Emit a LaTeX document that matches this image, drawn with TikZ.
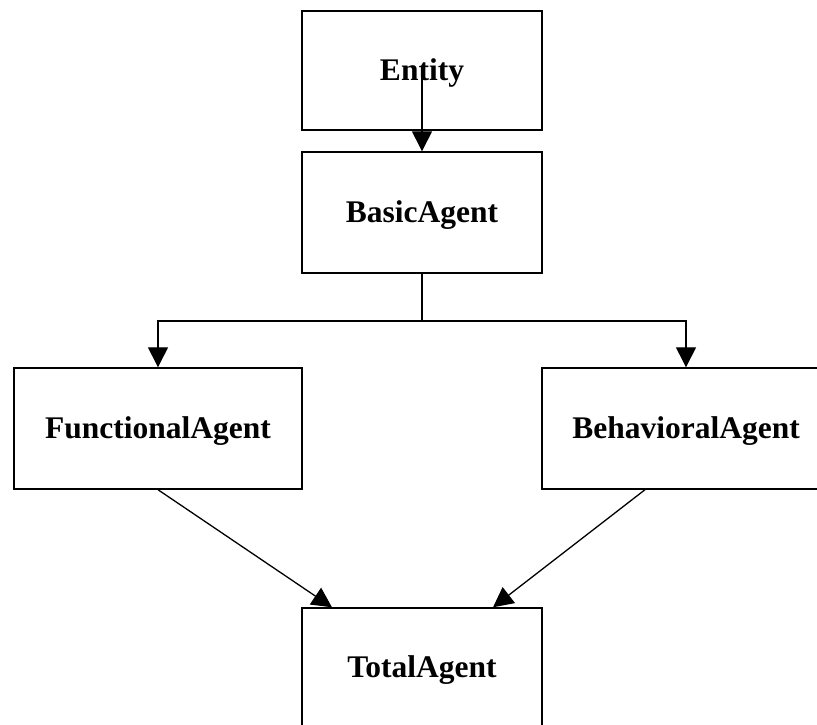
\documentclass[tikz,border=0pt]{standalone}
\usepackage{fontspec}
\setmainfont{Liberation Serif}
\usetikzlibrary{arrows.meta}
\begin{document}
\begin{tikzpicture}[x=1pt,y=-1pt,
  cls/.style={draw,line width=1.4pt,rectangle,inner sep=0pt,
    text height=22pt,text depth=3pt,
    font=\fontsize{31.5}{34}\selectfont\bfseries},
  conn/.style={line width=1.3pt,-{Triangle[length=20pt,width=20pt]}}]
\clip (0,0) rectangle (817,724);
\fill[white] (0,0) rectangle (817,724);
\node[cls,minimum width=240pt,minimum height=119pt] (ent) at (422,70.5) {Entity};
\node[cls,minimum width=240pt,minimum height=121pt] (basic) at (422,212.5) {BasicAgent};
\node[cls,minimum width=288pt,minimum height=121pt] (func) at (158,428.5) {FunctionalAgent};
\node[cls,minimum width=288pt,minimum height=121pt] (beh) at (686,428.5) {BehavioralAgent};
\node[cls,minimum width=240pt,minimum height=120pt] (tot) at (422,668) {TotalAgent};
\coordinate (es) at (422,76);
\coordinate (split) at (422,321);
\draw[conn] (es) -- (basic.north);
\draw[line width=1.3pt] (basic.south) -- (split);
\draw[conn] (split) -| (func.north);
\draw[conn] (split) -| (beh.north);
\draw[conn] (func.south) -- ([xshift=-90pt]tot.north);
\draw[conn] ([xshift=-41pt]beh.south) -- ([xshift=71pt]tot.north);
\end{tikzpicture}
\end{document}
